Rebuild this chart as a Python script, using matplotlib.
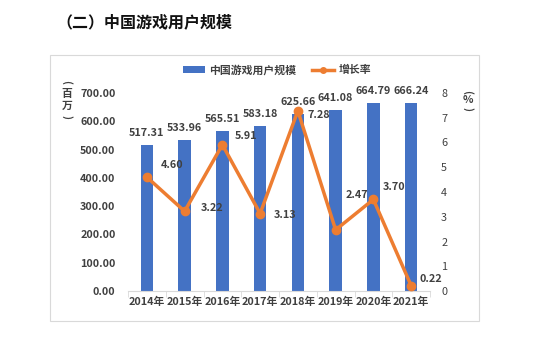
import matplotlib
matplotlib.use("Agg")
import matplotlib.pyplot as plt
from matplotlib.patches import Rectangle
from matplotlib.lines import Line2D
from matplotlib.patches import Patch

plt.rcParams['font.family'] = ['Noto Sans CJK SC', 'DejaVu Sans']

years = ['2014年', '2015年', '2016年', '2017年', '2018年', '2019年', '2020年', '2021年']
users = [517.31, 533.96, 565.51, 583.18, 625.66, 641.08, 664.79, 666.24]
growth = [4.60, 3.22, 5.91, 3.13, 7.28, 2.47, 3.70, 0.22]
left_ticks = [0, 100, 200, 300, 400, 500, 600, 700]
right_ticks = [0, 1, 2, 3, 4, 5, 6, 7, 8]
# label offsets in pixels for growth labels
growth_offsets = [(25, 12), (27, 3), (24, 9), (25, -1), (21, -4), (21, 35), (21, 12), (20, 7)]
left_unit = ['(', '百', '万', ')']
right_unit = ['(', '%', ')']

BLUE = '#4472C4'
ORANGE = '#ED7D31'
TXT = '#404040'
FS = 7.8

fig = plt.figure(figsize=(5.45, 3.37), dpi=100)
fig.patch.set_facecolor('white')

# outer chart border
fig.patches.append(Rectangle((50/545, 1-321/337), (479-50)/545, (321-55)/337,
                             transform=fig.transFigure, fill=False,
                             edgecolor='#D9D9D9', linewidth=0.8))

fig.text(56/545, 1-22/337, '（二）中国游戏用户规模', fontsize=11.5, fontweight='bold',
         color='#111111', va='center', ha='left')

ax = fig.add_axes([128/545, 1-291/337, 302/545, 198/337])
x = list(range(len(years)))
ax.bar(x, users, width=0.33, color=BLUE, zorder=2)
ax.set_xlim(-0.5, len(years)-0.5)
ax.set_ylim(0, 700)
ax.set_yticks(left_ticks)
ax.set_yticklabels([f'{v:.2f}' for v in left_ticks])
ax.set_xticks(x)
ax.set_xticklabels(years)
for s in ['top', 'right', 'left']:
    ax.spines[s].set_visible(False)
ax.spines['bottom'].set_color('#D9D9D9')
ax.tick_params(axis='y', length=0, labelsize=FS, labelcolor=TXT, pad=9)
ax.tick_params(axis='x', length=0, labelsize=FS, labelcolor=TXT, pad=4)
for lab in ax.get_yticklabels() + ax.get_xticklabels():
    lab.set_fontweight('bold')
# minor ticks between categories
ax.set_xticks([i - 0.5 for i in range(len(years)+1)], minor=True)
ax.tick_params(axis='x', which='minor', length=4, color='#D9D9D9', direction='out')

for xi, v in zip(x, users):
    ax.annotate(f'{v:.2f}', (xi, v), xytext=(0, 12), textcoords='offset pixels',
                ha='center', va='center', fontsize=FS, fontweight='bold', color=TXT)

ax2 = ax.twinx()
ax2.plot(x, growth, color=ORANGE, linewidth=2.5, marker='o', markersize=6, zorder=3)
ax2.set_ylim(0, 8)
ax2.set_yticks(right_ticks)
for s in ['top', 'right', 'left', 'bottom']:
    ax2.spines[s].set_visible(False)
ax2.tick_params(axis='y', length=0, labelsize=FS, labelcolor=TXT, pad=8)

for xi, v, (dx, dy) in zip(x, growth, growth_offsets):
    ax2.annotate(f'{v:.2f}', (xi, v), xytext=(dx, dy), textcoords='offset pixels',
                 ha='center', va='center', fontsize=FS, fontweight='bold', color=TXT)

# axis unit labels (vertical, one glyph per text; brackets rotated)
def unit_label(chars, xpix, ys):
    for ch, yy in zip(chars, ys):
        rot = -90 if ch in '()' else 0
        fig.text(xpix/545, 1-yy/337, ch, fontsize=FS, fontweight='bold', color=TXT,
                 ha='center', va='center', rotation=rot, rotation_mode='anchor')

unit_label(left_unit, 67, [82, 94, 106, 117])
unit_label(right_unit, 468, [92, 100, 109])

handles = [Patch(facecolor=BLUE, edgecolor='none'),
           Line2D([0], [0], color=ORANGE, linewidth=2.5, marker='o', markersize=4)]
fig.legend(handles, ['中国游戏用户规模', '增长率'], loc='center',
           bbox_to_anchor=(277/545, 1-70/337), ncol=2, frameon=False,
           prop={'size': FS, 'weight': 'bold'}, labelcolor=TXT,
           handlelength=2.0, handleheight=0.6, columnspacing=1.5, handletextpad=0.4)

fig.savefig('out.png', dpi=100)
